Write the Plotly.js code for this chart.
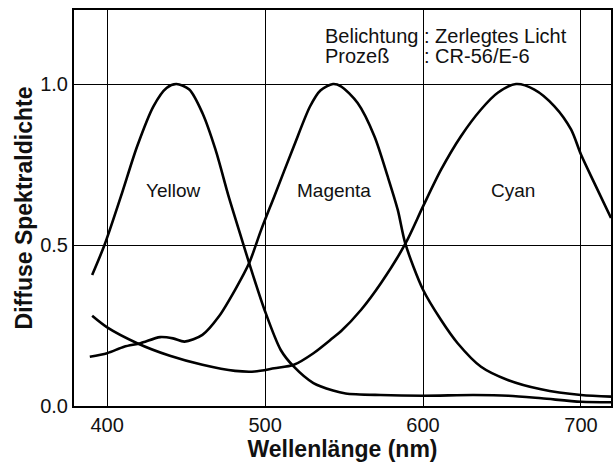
<!DOCTYPE html>
<html>
<head>
<meta charset="utf-8">
<script src="https://cdn.plot.ly/plotly-3.0.1.min.js"></script>
<style>html,body{margin:0;padding:0;background:#fff;}#chart{width:615px;height:464px;}</style>
</head>
<body>
<div id="chart"></div>
<script>
// Wavelength (nm) and diffuse spectral density for each dye layer
const yellowNm = [390.5, 398.3, 408.7, 419, 429.3, 437.6, 443.8, 452, 460.3, 468.6, 476.9, 485.1, 489.9, 499.6, 509.9, 518.2, 530.6, 543, 551, 573, 600, 632, 654, 675, 700, 719];
const yellowD  = [0.407, 0.5, 0.651, 0.807, 0.931, 0.988, 1.0, 0.983, 0.910, 0.796, 0.651, 0.52, 0.444, 0.299, 0.174, 0.122, 0.071, 0.048, 0.039, 0.034, 0.032, 0.034, 0.032, 0.024, 0.013, 0.0115];

const magentaNm = [389, 400, 410.7, 421, 433.5, 441.7, 449, 460.3, 470.7, 481, 489.9, 497.5, 505.8, 518.2, 528.5, 535, 543, 548, 558.6, 569.2, 577.6, 584, 588.8, 600, 611.4, 621.9, 636.7, 653.6, 674.7, 700, 719];
const magentaD  = [0.153, 0.164, 0.184, 0.195, 0.214, 0.210, 0.200, 0.221, 0.278, 0.361, 0.444, 0.547, 0.651, 0.807, 0.931, 0.98, 1.0, 0.993, 0.941, 0.838, 0.713, 0.609, 0.504, 0.361, 0.267, 0.195, 0.122, 0.081, 0.052, 0.034, 0.029];

const cyanNm = [390.5, 400, 419, 439.7, 460.3, 481, 493.4, 505.8, 518.2, 530.6, 543, 548, 560.8, 573.4, 588.8, 600, 611.4, 624, 636.7, 647.3, 658.9, 670.5, 683.2, 693.7, 700, 708.4, 719];
const cyanD  = [0.28, 0.244, 0.195, 0.156, 0.128, 0.109, 0.107, 0.117, 0.128, 0.164, 0.212, 0.232, 0.299, 0.382, 0.504, 0.62, 0.734, 0.838, 0.921, 0.973, 1.0, 0.983, 0.931, 0.859, 0.781, 0.693, 0.584];

const xTicks = [400, 500, 600, 700];
const yTicks = [0, 0.5, 1.0];
const yTickLabels = ["0.0", "0.5", "1.0"];

const curveNames = ["Yellow", "Magenta", "Cyan"];
const labelPos = [[441.7, 0.668], [543.9, 0.668], [657.1, 0.668]];

const FONT = "Liberation Sans, Arial, Helvetica, sans-serif";
const lineStyle = {color: "#000", width: 2.6, shape: "spline", smoothing: 0.8};

const data = [
  {x: yellowNm, y: yellowD, name: curveNames[0], mode: "lines", line: lineStyle, hoverinfo: "x+y"},
  {x: magentaNm, y: magentaD, name: curveNames[1], mode: "lines", line: lineStyle, hoverinfo: "x+y"},
  {x: cyanNm, y: cyanD, name: curveNames[2], mode: "lines", line: lineStyle, hoverinfo: "x+y"}
];

const annotations = curveNames.map((n, i) => ({
  x: labelPos[i][0], y: labelPos[i][1], xref: "x", yref: "y",
  text: n, showarrow: false, xanchor: "center", yanchor: "middle",
  font: {family: FONT, size: 19, color: "#111"}
}));

const hdr = {family: FONT, size: 20, color: "#111"};
annotations.push(
  {x: 536.8, y: 1.149, xref: "x", yref: "y", text: "Belichtung", showarrow: false, xanchor: "left", yanchor: "middle", font: hdr},
  {x: 599.3, y: 1.149, xref: "x", yref: "y", text: ": Zerlegtes Licht", showarrow: false, xanchor: "left", yanchor: "middle", font: hdr},
  {x: 536.8, y: 1.087, xref: "x", yref: "y", text: "Prozeß", showarrow: false, xanchor: "left", yanchor: "middle", font: hdr},
  {x: 599.3, y: 1.087, xref: "x", yref: "y", text: ": CR-56/E-6", showarrow: false, xanchor: "left", yanchor: "middle", font: hdr}
);

const layout = {
  width: 615, height: 464,
  margin: {l: 74, r: 4, t: 10, b: 58},
  paper_bgcolor: "#fff", plot_bgcolor: "#fff",
  showlegend: false,
  font: {family: FONT, color: "#111"},
  xaxis: {
    range: [379, 719], tickvals: xTicks, ticks: "",
    showgrid: true, gridcolor: "#000", gridwidth: 1,
    showline: true, linecolor: "#000", linewidth: 2, mirror: true,
    zeroline: false, tickfont: {family: FONT, size: 20, color: "#111"},
    title: {text: "<b>Wellenlänge (nm)</b>", font: {family: FONT, size: 23, color: "#111"}, standoff: 6}
  },
  yaxis: {
    range: [0, 1.23], tickvals: yTicks, ticktext: yTickLabels, ticks: "",
    showgrid: true, gridcolor: "#000", gridwidth: 1,
    showline: true, linecolor: "#000", linewidth: 2, mirror: true,
    zeroline: false, tickfont: {family: FONT, size: 20, color: "#111"},
    title: {text: "<b>Diffuse Spektraldichte</b>", font: {family: FONT, size: 23, color: "#111"}, standoff: 1}
  },
  annotations: annotations
};

Plotly.newPlot("chart", data, layout, {displayModeBar: false, staticPlot: true});
</script>
</body>
</html>
